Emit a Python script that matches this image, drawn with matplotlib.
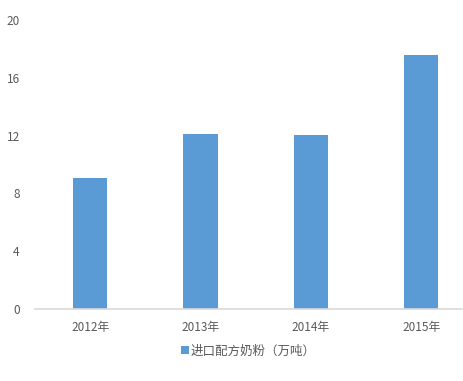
import matplotlib.pyplot as plt

plt.rcParams['font.family'] = ['Noto Sans CJK SC', 'DejaVu Sans']

years = ['2012年', '2013年', '2014年', '2015年']
imports = [9.1, 12.1, 12.05, 17.6]
yticks = [0, 4, 8, 12, 16, 20]

fig = plt.figure(figsize=(4.63, 3.81), dpi=100)
ax = fig.add_axes([35 / 463, 72 / 381, 427 / 463, 289 / 381])

x = range(len(years))
ax.bar(x, imports, width=0.31, color='#5B9BD5', label='进口配方奶粉（万吨）', zorder=2)

ax.set_xlim(-0.5, 3.37)
ax.set_ylim(0, 20)
ax.set_yticks(yticks)
ax.set_xticks(list(x))
ax.set_xticklabels(years)

for s in ['top', 'right', 'left']:
    ax.spines[s].set_visible(False)
ax.spines['bottom'].set_color('#d9d9d9')
ax.spines['bottom'].set_linewidth(1.2)
ax.tick_params(axis='both', length=0, colors='#595959', labelsize=8.5)
ax.tick_params(axis='y', pad=11)
ax.tick_params(axis='x', pad=9)

ax.legend(loc='upper center', bbox_to_anchor=(0.5, -0.085), frameon=False,
          fontsize=9, handlelength=0.6, handleheight=0.6, handletextpad=0.2,
          labelcolor='#595959')

fig.savefig('out.png', dpi=100)
